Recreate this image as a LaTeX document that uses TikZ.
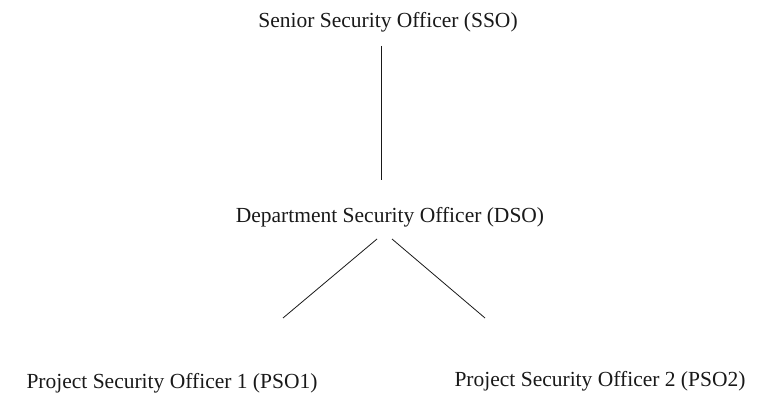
\documentclass[tikz,border=0pt]{standalone}
\usepackage{fontspec}
\setmainfont{Liberation Serif}
\usetikzlibrary{positioning}

\begin{document}
\begin{tikzpicture}[
  x=1pt, y=-1pt,
  officer/.style={anchor=base, inner sep=2pt, font=\fontsize{21.5}{26}\selectfont, text=black!90},
  link/.style={line width=0.8pt, draw=black!90}
]

\useasboundingbox (0,0) rectangle (770,406);

% officers, placed by their baselines
\node[officer] (sso) at (388,28) {Senior Security Officer (SSO)};
\node[officer] (dso) at (390,222) {Department Security Officer (DSO)};
\node[officer] (pso1) at (172,388) {Project Security Officer 1 (PSO1)};
\node[officer] (pso2) at (600,386) {Project Security Officer 2 (PSO2)};

% reporting lines
\draw[link] ([xshift=-7pt,yshift=-18pt]sso.base) -- ([xshift=-9pt,yshift=42pt]dso.base);
\draw[link] ([xshift=-13pt,yshift=-17pt]dso.base) -- ([xshift=111pt,yshift=70pt]pso1.base);
\draw[link] ([xshift=2pt,yshift=-17pt]dso.base) -- ([xshift=-115pt,yshift=68pt]pso2.base);

\end{tikzpicture}
\end{document}
